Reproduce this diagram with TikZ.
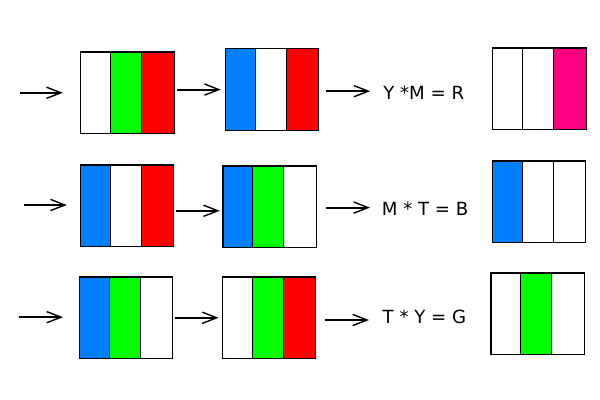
\documentclass[tikz,border=0pt]{standalone}
\usepackage{fontspec}
\newfontfamily\eqfont{DejaVu Sans}
\usetikzlibrary{arrows.meta,calc}
\definecolor{flagblue}{HTML}{0080FF}
\definecolor{flaggreen}{HTML}{00FF00}
\definecolor{flagred}{HTML}{FF0000}
\definecolor{flagmag}{HTML}{FF0080}

% three vertical stripes inside node #1: left #2, middle #3, right #4
\newcommand{\stripes}[4]{%
  \fill[#2] (#1.south west) rectangle ($(#1.north west)!0.32!(#1.north east)$);
  \fill[#3] ($(#1.south west)!0.32!(#1.south east)$) rectangle ($(#1.north west)!0.65!(#1.north east)$);
  \fill[#4] ($(#1.south west)!0.65!(#1.south east)$) rectangle (#1.north east);
  \draw[frame] (#1.south west) rectangle (#1.north east);
  \draw[frame] ($(#1.south west)!0.32!(#1.south east)$) -- ($(#1.north west)!0.32!(#1.north east)$);
  \draw[frame] ($(#1.south west)!0.65!(#1.south east)$) -- ($(#1.north west)!0.65!(#1.north east)$);
}

\begin{document}
\begin{tikzpicture}[
  arr/.style={-{Straight Barb[length=3.6mm,width=2.8mm,line width=1pt]},line width=1.3pt},
  frame/.style={line width=0.75pt},
  flag/.style={rectangle,minimum width=2.325cm,minimum height=2.025cm,inner sep=0pt},
  eq/.style={font=\eqfont\fontsize{12.9pt}{15pt}\selectfont,inner sep=0pt,anchor=west},
]
\useasboundingbox (0,0) rectangle (15,10);

% ============ row 1: Y * M = R ============
\node[flag] (A1) at (3.19,7.68) {};
\node[flag] (B1) at (6.80,7.76) {};
\node[flag] (C1) at (13.49,7.78) {};
\node[eq] (eq1) at (9.575,7.69) {Y *M = R};
\coordinate (in1) at (0.5,7.68);
\stripes{A1}{white}{flaggreen}{flagred}
\stripes{B1}{flagblue}{white}{flagred}
\stripes{C1}{white}{white}{flagmag}
\draw[arr,shorten >=0.45cm] (in1) -- (in1 -| A1.west);
\draw[arr,shorten <=0.07cm,shorten >=0.11cm] (B1.west -| A1.east) -- (B1.west);
\draw[arr,shorten <=0.19cm,shorten >=0.32cm] ([yshift=0.03cm]eq1.west -| B1.east) -- ([yshift=0.03cm]eq1.west);

% ============ row 2: M * T = B ============
\node[flag] (A2) at (3.175,4.855) {};
\node[flag] (B2) at (6.745,4.83) {};
\node[flag] (C2) at (13.475,4.955) {};
\node[eq] (eq2) at (9.54,4.79) {M * T = B};
\coordinate (in2) at (0.6,4.875);
\stripes{A2}{flagblue}{white}{flagred}
\stripes{B2}{flagblue}{flaggreen}{white}
\stripes{C2}{flagblue}{white}{white}
\draw[arr,shorten >=0.335cm] (in2) -- (in2 -| A2.west);
\draw[arr,shorten <=0.06cm,shorten >=0.08cm] ([yshift=-0.1cm]B2.west -| A2.east) -- ([yshift=-0.1cm]B2.west);
\draw[arr,shorten <=0.24cm,shorten >=0.29cm] ([yshift=0.02cm]eq2.west -| B2.east) -- ([yshift=0.02cm]eq2.west);

% ============ row 3: T * Y = G ============
\node[flag] (A3) at (3.15,2.055) {};
\node[flag] (B3) at (6.725,2.055) {};
\node[flag] (C3) at (13.445,2.155) {};
\node[eq] (eq3) at (9.56,2.07) {T * Y = G};
\coordinate (in3) at (0.475,2.07);
\stripes{A3}{flagblue}{flaggreen}{white}
\stripes{B3}{white}{flaggreen}{flagred}
\stripes{C3}{white}{flaggreen}{white}
\draw[arr,shorten >=0.405cm] (in3) -- (in3 -| A3.west);
\draw[arr,shorten <=0.06cm,shorten >=0.09cm] (B3.west -| A3.east) -- (B3.west);
\draw[arr,shorten <=0.24cm,shorten >=0.335cm] ([yshift=-0.07cm]eq3.west -| B3.east) -- ([yshift=-0.07cm]eq3.west);

\end{tikzpicture}
\end{document}
